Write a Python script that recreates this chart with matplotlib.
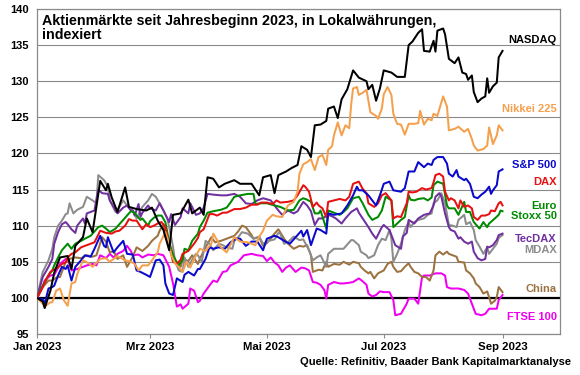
import numpy as np
import matplotlib
matplotlib.use('Agg')
import matplotlib.pyplot as plt
import matplotlib.transforms as mtransforms

plt.rcParams['font.family'] = ['Liberation Sans', 'DejaVu Sans']

# ---------------- data (days since 2023-01-01, index values) ----------------
nasdaq_days = [0,3,4,7,9,12,16,18,20,24,26,29,31,33,36,37,39,42,46,48,52,57,60,63,66,69,71,75,79,81,85,87,89,92,95,98,103,106,112,116,118,122,124,126,130,133,136,138,141,143,145,148,151,152,155,157,159,162,165,168,172,173,175,177,179,181,185,188,192,194,196,199,201,202,205,207,208,209,212,213,215,218,220,222,224,225,227,228,230,232,234,235,236,238,240,241,243]
nasdaq_vals = [100,99.5,98.6,101,103.5,105.6,105.8,104,107.2,108.4,111,109.1,112.6,116.2,114.9,115.8,113.9,111.9,115.3,112.6,112.3,112.1,112.5,110.7,109.4,106.6,111.5,111.7,113.6,111.7,112.5,111.5,116.7,116.5,115.3,115.8,116.3,115.8,115.8,114.2,116.7,117,114.5,117,117.5,118,118.4,121,120.5,119.5,123.9,124,124.5,126.2,126.5,124.9,127.5,128.9,131.5,130.5,130,128.9,129.5,127.3,129,131.5,131.2,130.6,130.6,135,135.5,136.7,137.2,134.2,134.1,135.6,134.1,137,137.3,136.5,133.1,132.5,133.3,131.2,131,130.2,130.8,128.5,127.1,127.6,127.9,130.4,128.4,129.3,129.8,133.3,134.2]

nikkei_days = [0,3,4,7,8,10,12,14,16,18,20,21,24,27,29,33,36,38,42,46,49,51,53,55,58,60,63,64,67,69,70,72,74,76,78,80,82,85,88,91,92,94,96,99,103,106,110,114,116,118,120,123,125,128,131,134,136,137,139,141,143,145,147,149,151,152,154,155,157,159,161,163,164,165,167,168,170,172,173,174,177,178,180,181,183,185,186,188,190,192,194,197,199,200,202,204,206,207,209,212,214,215,218,220,223,225,227,228,230,233,235,236,238,240,241,243]
nikkei_vals = [100,99.2,98.8,99.4,99.4,101,101.3,99.7,98.9,102,102.2,103.3,105.2,104.8,104.3,105.4,105.5,105,105.8,105.2,105,104.7,103.8,104.5,104.5,105.2,106.3,107.5,109.1,107.5,106,104.8,104.3,103.6,105,104.2,105.4,106.8,106.5,107.5,108.9,108,107,106.3,108.4,107.8,107.7,107.3,108.5,109.3,110.7,111.5,111.3,111.2,112.8,113.3,114.7,117.2,118.5,118.8,119.2,117.7,119.5,119.8,118.4,120.5,121,122.5,124.3,122.5,123.9,123.5,126.8,129,129.2,128.1,128.4,128.8,127.3,125.7,125.2,124.8,126.2,128.2,129.2,128.1,125.5,124.1,124,122.6,124.1,124.1,124.2,125.9,124,124.8,124.6,125.5,125.2,127.9,126.5,123.2,123.4,123.7,123,123.4,122,121.1,120.4,120.6,121.1,123.6,121.3,122.5,123.9,123.2]

sp500_days = [0,3,4,6,8,9,11,13,15,16,18,20,23,25,28,30,33,35,36,37,40,42,45,47,50,52,54,57,59,62,64,66,67,69,71,73,76,77,79,82,84,85,88,90,92,95,98,101,104,106,109,112,115,118,120,124,126,129,132,135,138,139,141,143,146,148,151,152,155,159,162,165,167,168,170,173,175,177,179,181,184,186,190,192,194,197,199,202,204,206,207,209,212,214,215,217,219,220,223,224,226,228,230,232,234,236,237,238,240,241,243]
sp500_vals = [100,99.8,99.2,101.3,101.5,101.7,103.1,104.3,104,104.5,102.4,104.3,105.2,105.9,105.7,106.8,108.6,107.2,107,108.4,106.3,107,107.9,106.1,106,103.8,103.6,103.2,102.9,105.2,105.3,104.5,102,100.6,100.4,102.7,102.2,103.2,103.6,103.1,104,104,105.4,107,106.8,107,106.8,107.7,108.2,108.2,107.2,107.8,107.8,106.6,108.2,108.6,108.4,107.9,107.5,108.4,109.3,108.5,109.4,107.3,109.6,109.4,108.9,111.7,111.5,111.7,112.8,114.2,115.4,114.9,114.9,114.2,113.5,112.8,114.2,115.8,116.1,114.9,114.7,115.2,117.5,117.5,118.8,118.1,118.6,118.4,119.1,119.5,119.5,118.6,117.2,116.8,117.7,116.8,116.3,116.5,115.8,114,113.8,114.3,114.7,115.4,114.4,114.9,115.6,117.5,117.8]

dax_days = [0,3,5,7,8,11,13,15,16,18,20,23,25,28,30,33,36,39,41,43,46,48,50,52,55,57,59,61,63,65,67,68,70,71,73,75,76,79,82,84,85,87,90,92,94,97,99,103,106,109,112,115,117,120,123,125,127,131,134,136,139,140,142,144,146,147,149,151,152,155,158,161,163,165,168,170,172,173,176,178,180,182,185,186,188,190,193,194,196,198,201,203,206,207,208,210,212,213,215,216,218,220,221,223,225,227,228,230,232,234,236,237,239,241,242,243]
dax_vals = [100,101.5,102.7,103.6,103.8,104.2,104.7,104.9,105.6,106.1,106.3,107,107.2,107.5,107.7,109.3,109,108.9,109.2,109.3,110,110.9,110.7,110.7,109.5,110.2,109.8,110,110.3,110.5,109.8,108.5,106.1,105,104.7,105.3,106.1,106.5,107.5,108.3,109.1,109.5,111.6,111.6,111.4,111.8,111.8,112.3,112.3,112.5,112.9,112.9,113.2,113.2,113,113.5,113.2,113.3,113.5,114.2,115.6,115.4,114.7,112.6,113.2,112.8,112.4,111.2,113.3,113.5,113.7,113.5,114,115.8,116.1,115.1,114.5,113.1,112.6,113.1,114.2,114.5,113.5,111,111.3,111.2,113.1,114.7,114.6,114.7,115.2,115,115.2,116,117,117.2,116.8,114.7,113.5,113.8,113.5,112.4,113.5,112.6,112.8,112.4,111.2,110.8,111.4,111.4,111.6,112.1,112,113.1,113.3,112.8]

stoxx_days = [0,3,6,8,9,11,13,15,16,18,20,23,25,28,29,32,34,36,38,41,43,46,49,51,52,54,55,58,59,61,63,65,67,69,71,72,74,76,77,79,81,84,85,87,89,92,96,99,101,103,106,110,113,114,117,120,124,127,131,134,137,139,141,143,145,147,148,151,152,155,158,160,162,165,168,170,173,175,178,180,182,185,186,188,190,192,194,195,197,199,202,204,206,207,209,212,214,215,218,220,223,224,226,228,231,233,235,236,239,241,242,243]
stoxx_vals = [100,101.7,103.1,103.8,104.5,105.6,106.6,107.2,107.5,106.8,107.5,107.9,108.2,108.6,108.9,109.8,110,109.6,109.1,109.6,110.2,111.1,112,111.8,111.4,110.8,111,110,110.6,111.1,111.4,111.4,110.5,107.7,105.9,105.4,104.5,105.3,106.8,106.6,107.9,108.9,109.8,110.7,111.8,112,112.2,112.5,113.2,114,114.2,114.4,114.4,113,113.1,113.1,112.8,112.6,112.1,112.2,113.5,113.8,113.6,113.3,111.7,111.7,112.1,109.6,112.1,111.8,111.5,111.9,112.4,113.8,114,113.1,111.5,110.8,111.2,112.1,114,113.5,109.8,110.3,110.8,111.2,114.2,113.6,113.5,113.7,113.8,113.5,113.9,115.6,116.1,115.8,112.8,112.4,112.4,111.5,113.3,111.9,111.9,110.5,109.6,110.5,109.8,110.3,111,111.5,112.1,112]

tecdax_days = [0,3,6,8,9,11,13,15,16,18,20,21,24,25,26,28,30,32,34,37,38,40,42,45,47,49,50,51,53,54,55,58,59,62,64,66,69,70,72,75,76,79,80,83,85,87,89,92,96,99,103,106,109,112,115,118,122,126,128,131,134,136,139,141,143,145,147,149,152,154,156,159,161,164,167,168,170,173,175,177,180,181,184,186,187,190,191,193,194,197,199,202,205,207,208,210,211,213,215,216,218,220,221,223,225,227,228,230,232,234,235,236,238,240,241,243]
tecdax_vals = [100,102.9,104.3,105.4,107.5,109.1,110.2,110.5,110.2,109.5,109,110,111,110.3,111.7,111.9,112.1,115,114.5,114.4,113.5,112.6,111.7,112.5,112.8,112.1,112.1,111.4,113,111.2,111.8,112.8,112.4,112.1,113.1,112.1,110.5,111.6,110.1,111.2,112.4,111.7,113.1,111.5,111.7,112.5,114.4,114.3,114.2,114.2,114.4,114,113.1,113,113.5,113.8,113.5,112.1,111.5,112.1,111.7,112,113.3,112.8,112,110.1,111,111,111.5,111.3,111,110.3,111,111.9,112.4,111.8,111,109.8,108.9,108.2,109.8,110.1,109.4,108,107.3,106.8,108.5,109,110.8,110.3,111,111.5,111.7,112.8,114,114.5,114.1,111.7,109.8,109.4,109.2,108.2,108.4,107.8,107.5,107.8,106.4,105.5,105.2,105.4,107.1,107,107.3,108,108.7,108.9]

mdax_days = [0,3,6,8,9,11,13,15,16,17,19,21,24,26,29,31,32,35,37,38,41,43,45,48,50,52,55,58,60,62,64,66,68,69,71,72,74,76,77,79,81,83,84,86,88,90,92,95,97,99,102,103,105,107,110,113,116,118,121,124,126,127,129,131,134,137,139,142,144,146,148,151,152,155,158,160,162,164,165,168,169,172,173,176,178,180,182,184,185,186,188,190,192,194,195,197,199,202,204,206,207,209,211,213,215,217,219,220,223,224,226,228,229,231,233,235,236,238,240,241,243]
mdax_vals = [100,103.6,105.2,106.8,108.4,110,110.7,111.6,111.7,113.1,111.7,112.2,112.6,114,113.5,113.1,117,116.3,115.4,113.5,111.9,112.6,113.5,112.5,112.1,111,112.6,113.5,114.4,114,113.1,112.1,111,109.8,107.1,105.2,103.8,103.6,105.6,104.3,105.3,106.1,105.9,105,107.9,107.5,106.6,107.5,107.3,107,106.8,107.9,108.4,109.1,108.9,108.2,108.5,107.5,107.9,108.1,109,108.9,107.5,107.7,108.5,108,108.1,106.6,105.2,105.6,105.9,104.3,106.1,106.8,106.8,106.8,107.4,108,108,107.3,106.4,105.9,105.5,105.9,107.3,108.2,108,109.4,108.2,105,106.1,107.5,109.4,110.5,109.8,110.5,110.8,111,111.5,111.7,113.1,113.5,114.5,113.1,110.1,110,109.8,110.8,111.5,110.2,110.5,109.4,108,107.1,106.1,107,106.1,106.8,107.5,108.3,108.7]

china_days = [0,3,6,8,10,12,15,17,20,23,26,29,31,34,36,38,40,42,45,47,50,52,55,58,60,63,64,66,67,70,71,73,75,76,79,81,84,85,88,91,93,96,99,103,105,107,109,112,113,116,118,120,124,126,129,131,134,137,139,141,143,144,147,149,151,152,155,158,160,163,165,168,169,171,173,174,176,178,181,183,185,186,188,190,192,194,195,197,199,201,203,205,207,208,210,212,214,215,217,219,220,223,224,226,228,229,231,233,235,236,237,239,240,241,243]
china_vals = [100,101.5,102.4,102.4,102.8,102.9,105,105.4,105.6,105.5,105.9,105.7,105.9,108.4,107.8,106.3,106.5,105.4,105.9,104.3,105.7,107,106.5,107.2,107.9,108.6,109.3,110.2,108.5,106.8,105.8,104.5,104.3,105.4,105.1,105.9,104.7,105.4,107,108.4,107.7,107.9,108.2,108.6,109.2,110,109.8,108.7,108.2,108.4,107.2,107.6,108.9,109.5,108.2,107.5,106.8,107.2,107.1,107.3,105.9,103.6,103.9,103.8,105,104.3,104.7,104.6,105,104.6,105,104.8,104.3,103.8,103.4,103.6,102.7,103.4,103.8,104.7,105,104.3,103.6,103.7,104.3,104.8,104.3,103.6,103.4,102.9,102.9,102.4,103.8,105.9,106.4,106,106.4,106.1,105.9,105.7,105,104.9,103.8,103.4,102.7,102,101.5,100.6,100.9,100.1,99.2,99.6,100.1,101.5,100.8]

ftse_days = [0,3,4,7,9,12,15,16,18,21,24,26,29,31,33,36,38,40,42,45,47,49,50,53,55,58,61,63,66,69,71,73,75,76,79,80,82,84,85,87,90,92,94,97,99,101,105,108,112,115,118,120,122,124,126,128,130,132,135,138,140,142,144,146,148,150,151,152,155,158,160,163,165,168,170,172,173,175,177,179,181,184,186,187,190,193,194,197,199,201,202,205,208,211,213,214,216,220,223,225,227,229,232,234,236,238,240,241,243]
ftse_vals = [100,101.5,102.4,103.1,103.2,104.7,105.4,105.4,103.8,104,104.3,104.5,104.7,104.5,105.9,105.5,106.1,105.6,106.1,106.5,107.2,106.5,105.9,106,105.6,106,105.9,106.1,105.9,104.3,102,98.8,99.1,98.5,99.2,101.3,101,99.4,99.6,100.6,101.7,102.4,102.2,103.6,103.7,104.5,105,105.9,106.1,105.9,105.8,105.1,105.6,104.9,104.5,103.6,104.2,104.5,103.6,104.2,104.1,103.8,102.2,102.1,101.8,101.1,99.9,101.8,102.2,102,102,102.1,102.2,102.7,102.3,101.8,100.6,100.2,100.4,100.9,100.8,100.8,99.7,97.6,97.8,99.2,99.9,99.9,99.2,102.9,103.1,103.1,103.4,103.4,103.1,101.5,101.3,101.3,101.1,100.6,99.2,97.8,97.6,97.8,98.5,98.5,98.5,99.7,100.4]

series_names = ['FTSE 100', 'China', 'MDAX', 'TecDAX', 'Euro Stoxx 50', 'DAX', 'S&P 500', 'Nikkei 225', 'NASDAQ']
series_days = [ftse_days, china_days, mdax_days, tecdax_days, stoxx_days, dax_days, sp500_days, nikkei_days, nasdaq_days]
series_vals = [ftse_vals, china_vals, mdax_vals, tecdax_vals, stoxx_vals, dax_vals, sp500_vals, nikkei_vals, nasdaq_vals]

tick_dates = ['2023-01-01', '2023-03-01', '2023-05-01', '2023-07-01', '2023-09-01']
tick_labels = ['Jan 2023', 'Mrz 2023', 'Mai 2023', 'Jul 2023', 'Sep 2023']
y_ticks = [95, 100, 105, 110, 115, 120, 125, 130, 135, 140]

# ---------------- styles ----------------
colors = {
    'FTSE 100': '#F000F0',
    'China': '#9C7240',
    'MDAX': '#8C8C8C',
    'TecDAX': '#7030A0',
    'Euro Stoxx 50': '#008A00',
    'DAX': '#E81010',
    'S&P 500': '#0A0ACC',
    'Nikkei 225': '#F5A04C',
    'NASDAQ': '#000000',
}
label_text = {'Euro Stoxx 50': 'Euro\nStoxx 50'}
label_y = {'NASDAQ': 135.7, 'Nikkei 225': 126.2, 'S&P 500': 118.4, 'DAX': 116.0,
           'Euro Stoxx 50': 112.0, 'TecDAX': 108.2, 'MDAX': 106.6, 'China': 101.3,
           'FTSE 100': 97.4}

start = np.datetime64('2023-01-01')

fig = plt.figure(figsize=(5.8, 3.75), dpi=100)
ax = fig.add_axes([0.0638, 0.1093, 0.9017, 0.8667])

for yv in y_ticks:
    ax.axhline(yv, color='#8a8a8a', lw=0.8, zorder=1)
ax.axhline(100, color='black', lw=1.6, zorder=1.5)

for name, d, v in zip(series_names, series_days, series_vals):
    x = start + np.array(d).astype('timedelta64[D]')
    ax.plot(x, v, color=colors[name], lw=1.45, zorder=3, solid_joinstyle='round')

ax.set_ylim(95, 140)
ax.set_xlim(start, np.datetime64('2023-10-01'))
ax.set_yticks(y_ticks)
ax.set_yticklabels([str(t) for t in y_ticks], fontsize=8, fontweight='bold')
ax.set_xticks([np.datetime64(t) for t in tick_dates])
ax.set_xticklabels(tick_labels, fontsize=8.2, fontweight='bold')
ax.tick_params(axis='y', length=0, pad=6)
ax.tick_params(axis='x', length=3, color='#8a8a8a', pad=3)
for s in ax.spines.values():
    s.set_color('#8a8a8a')
    s.set_linewidth(0.9)

trans = mtransforms.blended_transform_factory(ax.transAxes, ax.transData)
for name in series_names:
    ax.text(0.994, label_y[name], label_text.get(name, name), transform=trans,
            ha='right', va='center', fontsize=8, fontweight='bold',
            color=colors[name], linespacing=1.05, zorder=5)

ax.text(0.0096, 0.985, 'Aktienmärkte seit Jahresbeginn 2023, in Lokalwährungen,\nindexiert',
        transform=ax.transAxes, ha='left', va='top', fontsize=10.3, fontweight='bold',
        linespacing=1.02, zorder=6)

fig.text(0.984, 0.035, 'Quelle: Refinitiv, Baader Bank Kapitalmarktanalyse',
         ha='right', va='center', fontsize=8, fontweight='bold')

fig.savefig('out.png', dpi=100)
